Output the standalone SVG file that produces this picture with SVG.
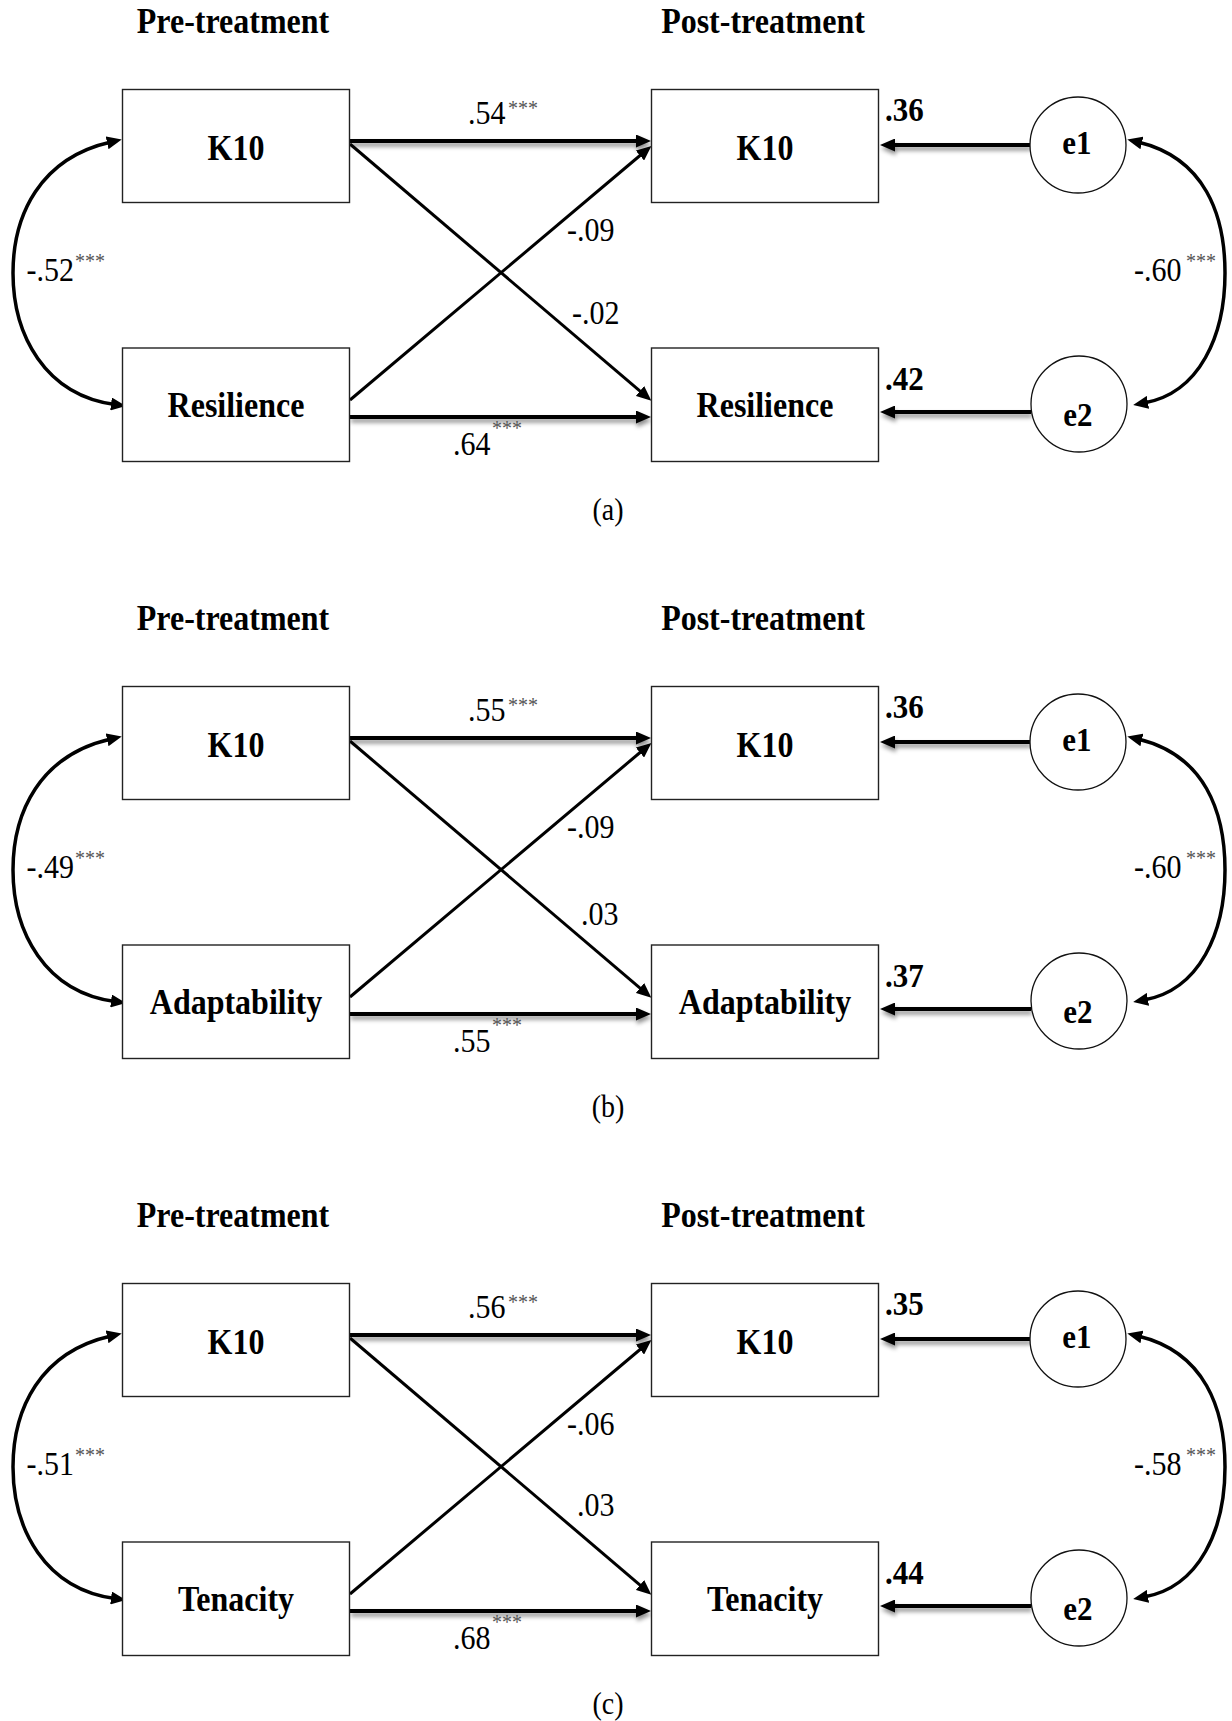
<svg xmlns="http://www.w3.org/2000/svg" width="1232" height="1721" viewBox="0 0 1232 1721">
<style>
text{font-family:"Liberation Serif","Times New Roman",serif;fill:#000}
.hdr,.nl,.el,.r2,.cf,.cap{transform:scaleY(1.1);transform-box:fill-box;transform-origin:50% 100%}
.hdr{font-size:32px;font-weight:bold;text-anchor:middle}
.nl{font-size:32px;font-weight:bold;text-anchor:middle}
.el{font-size:31px;font-weight:bold;text-anchor:middle}
.r2{font-size:31px;font-weight:bold}
.cf{font-size:30px}
.st{font-size:20px;fill:#555}
.cap{font-size:28px;text-anchor:middle}
.box{fill:#fff;stroke:#222;stroke-width:1.4}
.circ{fill:#fff;stroke:#111;stroke-width:1.3}
.hz{stroke:#000;stroke-width:4;fill:none;marker-end:url(#ah);filter:url(#sh)}
.dg{stroke:#000;stroke-width:3;fill:none;marker-end:url(#ah)}
.cv{stroke:#000;stroke-width:3.5;fill:none;marker-start:url(#ah);marker-end:url(#ah)}
</style>
<defs>
<marker id="ah" viewBox="0 0 15 13" refX="4" refY="6.5" markerWidth="15" markerHeight="13" markerUnits="userSpaceOnUse" orient="auto-start-reverse"><path d="M0,0 L15,6.5 L0,13 z" fill="#000"/></marker>
<filter id="sh" filterUnits="userSpaceOnUse" x="0" y="0" width="1232" height="1721"><feDropShadow dx="1" dy="3.5" stdDeviation="2" flood-color="#000" flood-opacity="0.45"/></filter>
</defs>

<!-- Panel (a) -->
<g id="panel-a">
  <text class="hdr" x="233" y="34">Pre-treatment</text>
  <text class="hdr" x="763" y="34">Post-treatment</text>
  <g id="connectors-a">
    <line class="hz" x1="350" y1="141" x2="640" y2="141"/>
    <line class="hz" x1="350" y1="417" x2="640" y2="417"/>
    <line class="dg" x1="350" y1="144" x2="643" y2="393.6"/>
    <line class="dg" x1="350" y1="400" x2="643" y2="153"/>
    <line class="hz" x1="1030" y1="145" x2="891" y2="145"/>
    <line class="hz" x1="1031" y1="412" x2="891" y2="412"/>
    <path class="cv" d="M111,142 C40,158 13,215 13,273 C13,335 45,395 115,404.5"/>
    <path class="cv" d="M1138,142 C1205,158 1225,215 1225,273 C1225,335 1200,393 1144,403"/>
  </g>
  <g id="a-pre-k10"><rect class="box" x="122.5" y="89.5" width="227" height="113"/><text class="nl" x="236" y="161">K10</text></g>
  <g id="a-pre-res"><rect class="box" x="122.5" y="348" width="227" height="113.5"/><text class="nl" x="236" y="418">Resilience</text></g>
  <g id="a-post-k10"><rect class="box" x="651.5" y="89.5" width="227" height="113"/><text class="nl" x="765" y="161">K10</text></g>
  <g id="a-post-res"><rect class="box" x="651.5" y="348" width="227" height="113.5"/><text class="nl" x="765" y="418">Resilience</text></g>
  <g id="a-e1"><circle class="circ" cx="1078" cy="145" r="48"/><text class="el" x="1077" y="155">e1</text></g>
  <g id="a-e2"><circle class="circ" cx="1079" cy="404" r="48"/><text class="el" x="1078" y="427">e2</text></g>
  <text class="r2" x="885" y="122">.36</text>
  <text class="r2" x="885" y="391">.42</text>
  <text class="cf" x="468" y="125">.54</text><text class="st" x="508" y="115">***</text>
  <text class="cf" x="567" y="242">-.09</text>
  <text class="cf" x="572" y="325">-.02</text>
  <text class="cf" x="453" y="456">.64</text><text class="st" x="492" y="435">***</text>
  <text class="cf" x="26.5" y="282">-.52</text><text class="st" x="75" y="268">***</text>
  <text class="cf" x="1134" y="282">-.60</text><text class="st" x="1186" y="268">***</text>
  <text class="cap" x="608" y="521">(a)</text>
</g>

<!-- Panel (b) -->
<g id="panel-b" transform="translate(0,597)">
  <text class="hdr" x="233" y="34">Pre-treatment</text>
  <text class="hdr" x="763" y="34">Post-treatment</text>
  <g id="connectors-b">
    <line class="hz" x1="350" y1="141" x2="640" y2="141"/>
    <line class="hz" x1="350" y1="417" x2="640" y2="417"/>
    <line class="dg" x1="350" y1="144" x2="643" y2="393.6"/>
    <line class="dg" x1="350" y1="400" x2="643" y2="153"/>
    <line class="hz" x1="1030" y1="145" x2="891" y2="145"/>
    <line class="hz" x1="1031" y1="412" x2="891" y2="412"/>
    <path class="cv" d="M111,142 C40,158 13,215 13,273 C13,335 45,395 115,404.5"/>
    <path class="cv" d="M1138,142 C1205,158 1225,215 1225,273 C1225,335 1200,393 1144,403"/>
  </g>
  <g id="b-pre-k10"><rect class="box" x="122.5" y="89.5" width="227" height="113"/><text class="nl" x="236" y="161">K10</text></g>
  <g id="b-pre-adapt"><rect class="box" x="122.5" y="348" width="227" height="113.5"/><text class="nl" x="236" y="418">Adaptability</text></g>
  <g id="b-post-k10"><rect class="box" x="651.5" y="89.5" width="227" height="113"/><text class="nl" x="765" y="161">K10</text></g>
  <g id="b-post-adapt"><rect class="box" x="651.5" y="348" width="227" height="113.5"/><text class="nl" x="765" y="418">Adaptability</text></g>
  <g id="b-e1"><circle class="circ" cx="1078" cy="145" r="48"/><text class="el" x="1077" y="155">e1</text></g>
  <g id="b-e2"><circle class="circ" cx="1079" cy="404" r="48"/><text class="el" x="1078" y="427">e2</text></g>
  <text class="r2" x="885" y="122">.36</text>
  <text class="r2" x="885" y="391">.37</text>
  <text class="cf" x="468" y="125">.55</text><text class="st" x="508" y="115">***</text>
  <text class="cf" x="567" y="242">-.09</text>
  <text class="cf" x="581" y="329">.03</text>
  <text class="cf" x="453" y="456">.55</text><text class="st" x="492" y="435">***</text>
  <text class="cf" x="26.5" y="282">-.49</text><text class="st" x="75" y="268">***</text>
  <text class="cf" x="1134" y="282">-.60</text><text class="st" x="1186" y="268">***</text>
  <text class="cap" x="608" y="521">(b)</text>
</g>

<!-- Panel (c) -->
<g id="panel-c" transform="translate(0,1194)">
  <text class="hdr" x="233" y="34">Pre-treatment</text>
  <text class="hdr" x="763" y="34">Post-treatment</text>
  <g id="connectors-c">
    <line class="hz" x1="350" y1="141" x2="640" y2="141"/>
    <line class="hz" x1="350" y1="417" x2="640" y2="417"/>
    <line class="dg" x1="350" y1="144" x2="643" y2="393.6"/>
    <line class="dg" x1="350" y1="400" x2="643" y2="153"/>
    <line class="hz" x1="1030" y1="145" x2="891" y2="145"/>
    <line class="hz" x1="1031" y1="412" x2="891" y2="412"/>
    <path class="cv" d="M111,142 C40,158 13,215 13,273 C13,335 45,395 115,404.5"/>
    <path class="cv" d="M1138,142 C1205,158 1225,215 1225,273 C1225,335 1200,393 1144,403"/>
  </g>
  <g id="c-pre-k10"><rect class="box" x="122.5" y="89.5" width="227" height="113"/><text class="nl" x="236" y="161">K10</text></g>
  <g id="c-pre-ten"><rect class="box" x="122.5" y="348" width="227" height="113.5"/><text class="nl" x="236" y="418">Tenacity</text></g>
  <g id="c-post-k10"><rect class="box" x="651.5" y="89.5" width="227" height="113"/><text class="nl" x="765" y="161">K10</text></g>
  <g id="c-post-ten"><rect class="box" x="651.5" y="348" width="227" height="113.5"/><text class="nl" x="765" y="418">Tenacity</text></g>
  <g id="c-e1"><circle class="circ" cx="1078" cy="145" r="48"/><text class="el" x="1077" y="155">e1</text></g>
  <g id="c-e2"><circle class="circ" cx="1079" cy="404" r="48"/><text class="el" x="1078" y="427">e2</text></g>
  <text class="r2" x="885" y="122">.35</text>
  <text class="r2" x="885" y="391">.44</text>
  <text class="cf" x="468" y="125">.56</text><text class="st" x="508" y="115">***</text>
  <text class="cf" x="567" y="242">-.06</text>
  <text class="cf" x="577" y="323">.03</text>
  <text class="cf" x="453" y="456">.68</text><text class="st" x="492" y="435">***</text>
  <text class="cf" x="26.5" y="282">-.51</text><text class="st" x="75" y="268">***</text>
  <text class="cf" x="1134" y="282">-.58</text><text class="st" x="1186" y="268">***</text>
  <text class="cap" x="608" y="521">(c)</text>
</g>
</svg>
